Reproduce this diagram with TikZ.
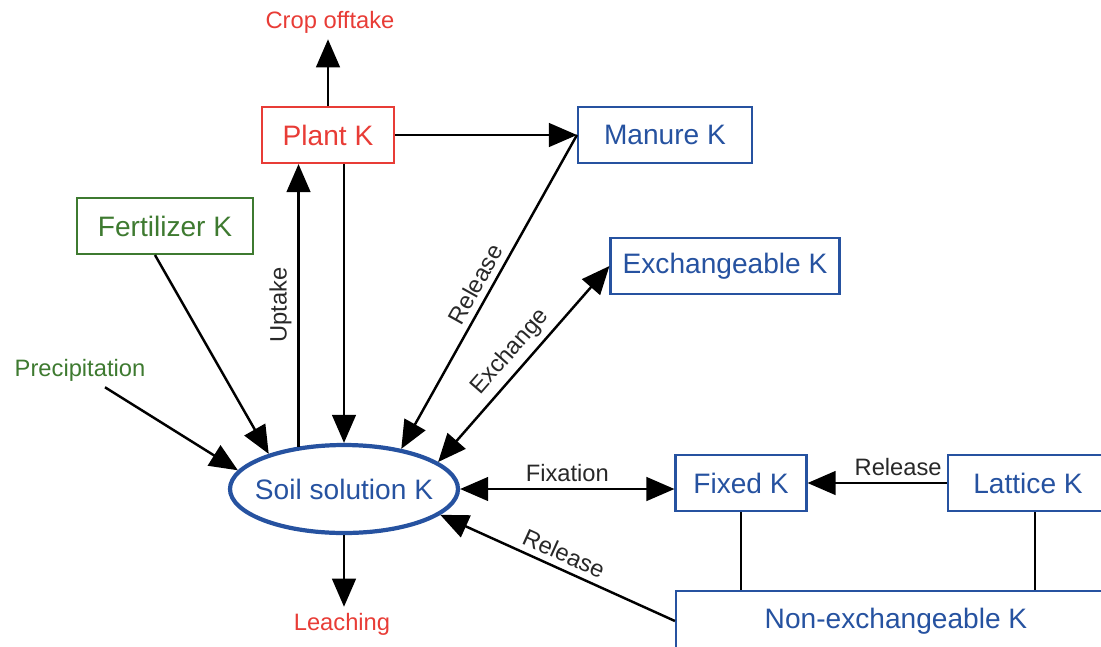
\documentclass[tikz,border=0pt]{standalone}
\usepackage{fontspec}
\setmainfont{Liberation Sans}
\usetikzlibrary{arrows.meta,positioning,shapes.geometric}
\definecolor{kred}{RGB}{232,60,54}
\definecolor{kblue}{RGB}{38,82,160}
\definecolor{kgreen}{RGB}{62,122,48}
\definecolor{kdark}{RGB}{40,40,40}
\def\px{0.02cm}

\begin{document}
\begin{tikzpicture}[x=\px,y=-\px,>={Triangle[length=16pt,width=13.5pt]}]
\tikzstyle{pool}=[draw,line width=1.2pt,minimum height=56*\px,font=\fontsize{16}{19}\selectfont]
\tikzstyle{flow}=[->,line width=1.4pt]
\tikzstyle{tag}=[font=\fontsize{13.5}{16}\selectfont,text=kdark]
\tikzstyle{ext}=[font=\fontsize{13.5}{16}\selectfont]
\useasboundingbox (0,0) rectangle (1101,646);
\clip (0,0) rectangle (1101,646);
% pools
\node[pool,draw=kred,text=kred,minimum width=132*\px] (plant) at (328,135) {Plant K};
\node[pool,draw=kblue,text=kblue,minimum width=174*\px] (manure) at (665,135) {Manure K};
\node[pool,draw=kgreen,text=kgreen,minimum width=176*\px] (fert) at (165,226) {Fertilizer K};
\node[pool,draw=kblue,text=kblue,minimum width=229*\px] (exch) at (725,266) {Exchangeable K};
\node[pool,draw=kblue,text=kblue,minimum width=131*\px] (fixed) at (741,483) {Fixed K};
\node[pool,draw=kblue,text=kblue,minimum width=160*\px] (lattice) at (1028,483) {Lattice K};
\node[pool,draw=kblue,text=kblue,minimum width=440*\px,minimum height=60*\px] (nonex) at (896,621) {Non-exchangeable K};
\node[ellipse,draw=kblue,line width=2.4pt,text=kblue,inner xsep=-5pt,inner ysep=0pt,minimum width=228*\px,minimum height=88*\px,font=\fontsize{16}{19}\selectfont] (soil) at (344,489) {Soil solution K};
% inputs and losses
\node[ext,text=kred] (crop) at (330,22) {Crop offtake};
\node[ext,text=kred] (leach) at (342,624) {Leaching};
\node[ext,text=kgreen] (precip) at (80,370) {Precipitation};
% flows
\draw[flow] (plant.north) -- (plant.north |- crop.south);
\draw[flow] (plant.east) -- (manure.west);
\draw[flow] ([xshift=-10*\px]fert.south) -- (soil.155);
\draw[flow] ([xshift=25*\px]precip.south) -- (soil.170);
\draw[flow] (soil.137) -- node[tag,sloped,above]{Uptake} (soil.137 |- plant.south);
\draw[flow] (plant.south -| soil.north) -- (soil.north);
\draw[flow] (manure.west) -- node[tag,sloped,above]{Release} (soil.35);
\draw[flow,<->] (soil.16) -- node[tag,sloped,above]{Exchange} (exch.west);
\draw[flow,<->] (soil.east) -- node[tag,above]{Fixation} (soil.east -| fixed.west);
\draw[flow] (lattice.west) -- node[tag,above,pos=0.35]{Release} (fixed.east);
\draw[flow] (nonex.west) -- node[tag,sloped,above]{Release} (soil.-15);
\draw[flow] (soil.south) -- (soil.south |- leach.north);
\draw[line width=1.4pt] (fixed.south) -- (fixed.south |- nonex.north);
\draw[line width=1.4pt] ([xshift=7*\px]lattice.south) -- ([xshift=7*\px]lattice.south |- nonex.north);
\end{tikzpicture}
\end{document}
